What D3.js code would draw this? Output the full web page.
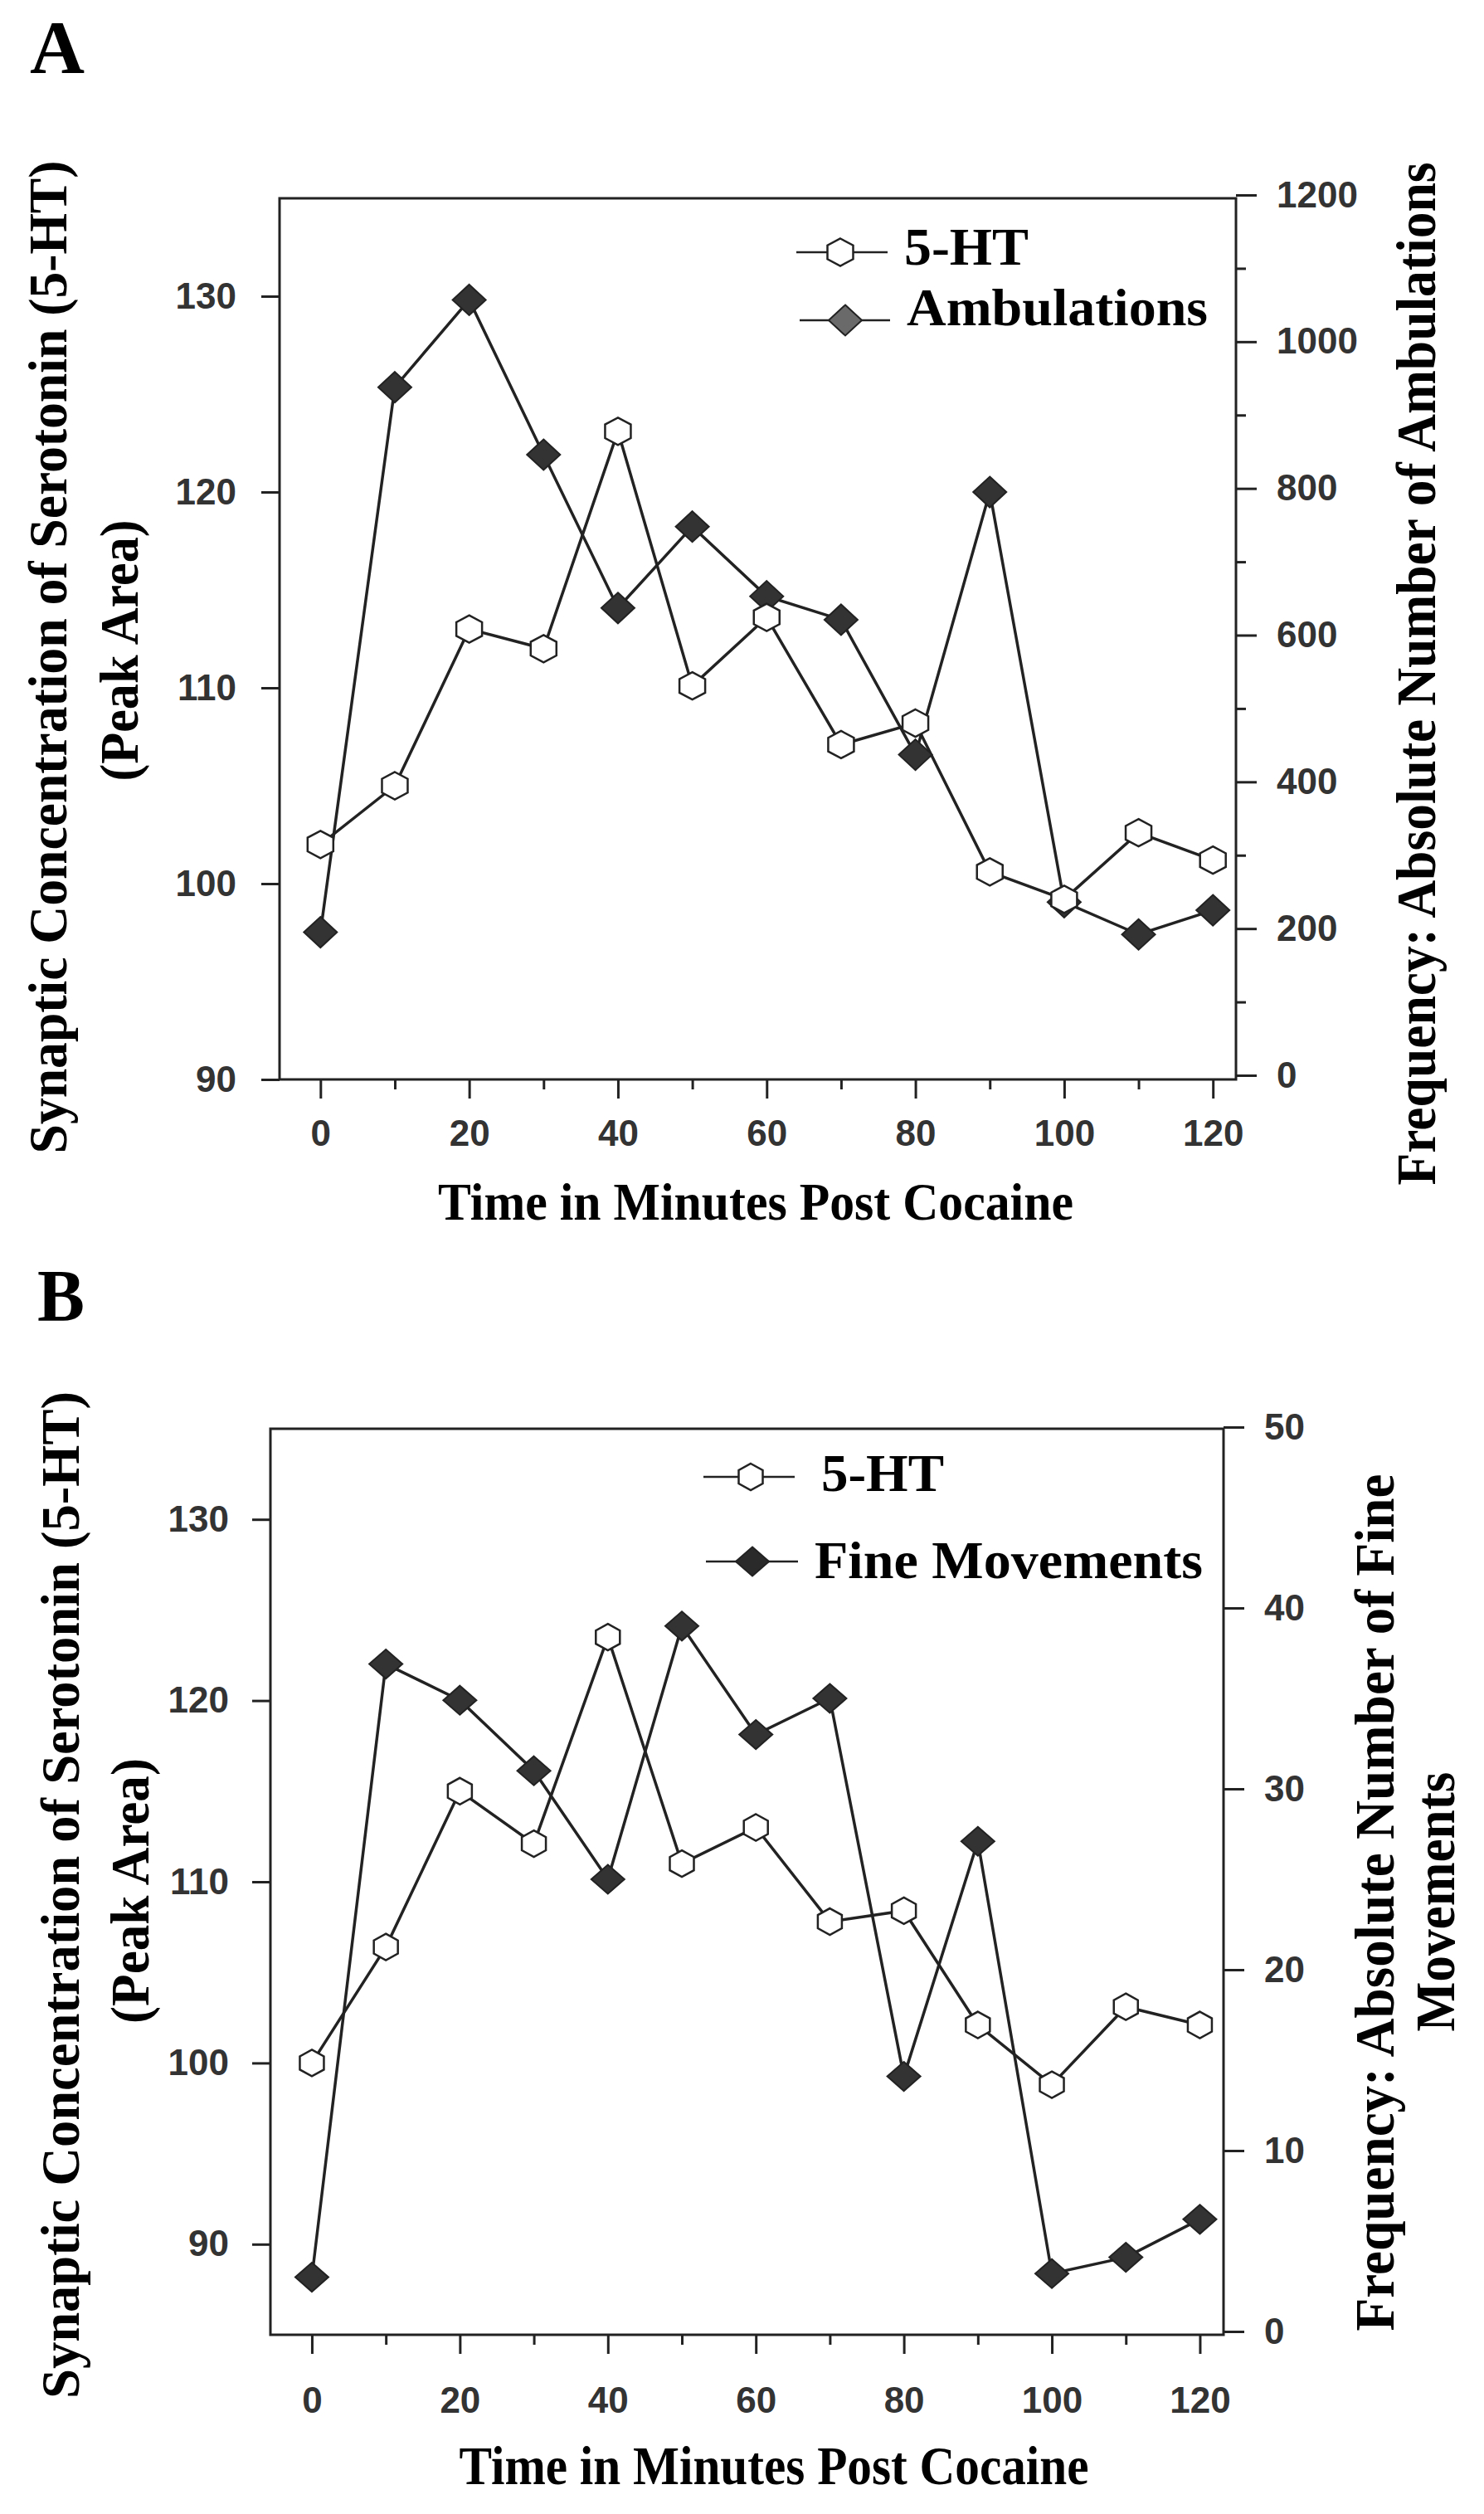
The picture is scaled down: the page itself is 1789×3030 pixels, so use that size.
<!DOCTYPE html>
<meta charset="utf-8">
<script src="https://d3js.org/d3.v7.min.js"></script>
<style>
body { margin: 0; background: #fff; }
.tick-label { font-family: "Liberation Sans", Arial, sans-serif; font-weight: bold; font-size: 44px; fill: #333; }
.title { font-family: "Liberation Serif", "Times New Roman", serif; font-weight: bold; fill: #000; }
</style>
<div id="chart"></div>
<script>

// ---- data ----
var minutes = [0, 10, 20, 30, 40, 50, 60, 70, 80, 90, 100, 110, 120];

// panel A
var serotoninA   = [102.0, 105.0, 113.0, 112.0, 123.1, 110.1, 113.6, 107.1, 108.2, 100.6, 99.2, 102.6, 101.2];
var ambulationsA = [195, 938, 1057, 846, 637, 748, 653, 621, 437, 795, 236, 192, 225];

// panel B
var serotoninB     = [100.0, 106.4, 115.0, 112.1, 123.5, 111.0, 113.0, 107.8, 108.4, 102.1, 98.8, 103.1, 102.1];
var fineMovementsB = [3.0, 36.9, 34.9, 31.0, 25.0, 39.0, 33.0, 35.0, 14.1, 27.1, 3.2, 4.1, 6.2];

// ticks
var xTicks = [0, 20, 40, 60, 80, 100, 120];
var xMinorTicks = [10, 30, 50, 70, 90, 110];
var leftTicks = [90, 100, 110, 120, 130];
var rightTicksA = [0, 200, 400, 600, 800, 1000, 1200];
var rightMinorA = [100, 300, 500, 700, 900, 1100];
var rightTicksB = [0, 10, 20, 30, 40, 50];

var svg = d3.select("#chart")
  .append("svg")
    .attr("width", 1789)
    .attr("height", 3030);

// hexagon (pointy top) and diamond shapes
function hexPath(w, h) {
  return "M0," + (-h) + "L" + w + "," + (-h / 2) + "L" + w + "," + (h / 2) +
         "L0," + h + "L" + (-w) + "," + (h / 2) + "L" + (-w) + "," + (-h / 2) + "Z";
}
function diamondPath(w, h) {
  return "M0," + (-h) + "L" + w + ",0L0," + h + "L" + (-w) + ",0Z";
}

// rotated title helper
function vText(x, y, str, size, len) {
  svg.append("text")
    .attr("class", "title")
    .attr("transform", "translate(" + x + "," + y + ") rotate(-90)")
    .attr("text-anchor", "middle")
    .style("font-size", size + "px")
    .attr("textLength", len)
    .attr("lengthAdjust", "spacingAndGlyphs")
    .text(str);
}
function hText(x, y, str, size, len, anchor) {
  svg.append("text")
    .attr("class", "title")
    .attr("x", x)
    .attr("y", y)
    .attr("text-anchor", anchor || "start")
    .style("font-size", size + "px")
    .attr("textLength", len)
    .attr("lengthAdjust", "spacingAndGlyphs")
    .text(str);
}

function drawPanel(p) {
  var x = d3.scaleLinear().domain(p.xDomain).range([p.left, p.right]);
  var yL = d3.scaleLinear().domain(p.leftDomain).range([p.bottom, p.top]);
  var yR = d3.scaleLinear().domain(p.rightDomain).range(p.rightRange);

  var g = svg.append("g");

  // x axis: major + minor ticks
  var xAxis = g.append("g")
    .attr("transform", "translate(0," + p.bottom + ")")
    .call(d3.axisBottom(x).tickValues(xTicks).tickSize(23).tickSizeOuter(0).tickPadding(p.xLabelPad));
  xAxis.append("g")
    .call(d3.axisBottom(x).tickValues(xMinorTicks).tickSize(12).tickFormat(""));

  // left axis
  g.append("g")
    .attr("transform", "translate(" + p.left + ",0)")
    .call(d3.axisLeft(yL).tickValues(leftTicks).tickSize(22).tickSizeOuter(0).tickPadding(p.leftPad));

  // right axis
  var rAxis = g.append("g")
    .attr("transform", "translate(" + p.right + ",0)")
    .call(d3.axisRight(yR).tickValues(p.rightTicks).tickFormat(d3.format("d"))
      .tickSize(25).tickSizeOuter(0).tickPadding(p.rightPad));
  if (p.rightMinor) {
    rAxis.append("g")
      .call(d3.axisRight(yR).tickValues(p.rightMinor).tickSize(12).tickFormat(""));
  }

  g.selectAll(".domain").remove();
  g.selectAll(".tick line").attr("stroke", "#222").attr("stroke-width", 3);
  g.selectAll(".tick text").attr("class", "tick-label").attr("fill", null);

  // frame
  g.append("path")
    .attr("d", "M" + p.left + "," + p.top + "L" + p.right + "," + p.top + "L" + p.right + "," + p.bottom +
               "L" + p.left + "," + p.bottom + "Z")
    .attr("fill", "none")
    .attr("stroke", "#222")
    .attr("stroke-width", 3);

  var ptsS = minutes.map(function(m, i) { return [x(m), yL(p.serotonin[i])]; });
  var ptsM = minutes.map(function(m, i) { return [x(m), yR(p.movement[i])]; });

  g.append("path").datum(ptsS)
    .attr("d", d3.line())
    .attr("fill", "none").attr("stroke", "#222").attr("stroke-width", 3.5);
  g.append("path").datum(ptsM)
    .attr("d", d3.line())
    .attr("fill", "none").attr("stroke", "#222").attr("stroke-width", 3.5);

  g.selectAll(".dia").data(ptsM).enter().append("path")
    .attr("d", diamondPath(p.dw, p.dh))
    .attr("transform", function(d) { return "translate(" + d[0] + "," + d[1] + ")"; })
    .attr("fill", "#333").attr("stroke", "#222").attr("stroke-width", 2);

  g.selectAll(".hex").data(ptsS).enter().append("path")
    .attr("d", hexPath(p.hw, p.hh))
    .attr("transform", function(d) { return "translate(" + d[0] + "," + d[1] + ")"; })
    .attr("fill", "#fff").attr("stroke", "#222").attr("stroke-width", 2.5);

  // legend
  var L = p.legend;
  g.append("line").attr("x1", L.x1).attr("x2", L.x2).attr("y1", L.y1).attr("y2", L.y1)
    .attr("stroke", "#222").attr("stroke-width", 2.5);
  g.append("path").attr("d", hexPath(p.hw, p.hh))
    .attr("transform", "translate(" + L.m1 + "," + L.y1 + ")")
    .attr("fill", "#fff").attr("stroke", "#222").attr("stroke-width", 2.5);
  g.append("line").attr("x1", L.x1b).attr("x2", L.x2b).attr("y1", L.y2).attr("y2", L.y2)
    .attr("stroke", "#222").attr("stroke-width", 2.5);
  g.append("path").attr("d", diamondPath(p.dw, p.dh))
    .attr("transform", "translate(" + L.m2 + "," + L.y2 + ")")
    .attr("fill", L.diaFill).attr("stroke", "#222").attr("stroke-width", 2);
  hText(L.t1x, L.t1y, "5-HT", 64, L.t1len);
  hText(L.t2x, L.t2y, p.movementName, 64, L.t2len);
}

// ---- panel A ----
hText(36, 88, "A", 92, 66);
drawPanel({
  left: 337, right: 1490, top: 239, bottom: 1301,
  xDomain: [-5.5, 123.1], leftDomain: [90, 135], rightDomain: [0, 1200], rightRange: [1296, 235],
  rightTicks: rightTicksA, rightMinor: rightMinorA,
  xLabelPad: 26, leftPad: 30, rightPad: 24,
  serotonin: serotoninA, movement: ambulationsA, movementName: "Ambulations",
  hw: 15.5, hh: 16.5, dw: 20, dh: 18.5,
  legend: { x1: 960, x2: 1070, y1: 304, m1: 1013, x1b: 964, x2b: 1073, y2: 386, m2: 1019, diaFill: "#6a6a6a",
            t1x: 1090, t1y: 319, t1len: 150, t2x: 1093, t2y: 392, t2len: 363 }
});
hText(911, 1470, "Time in Minutes Post Cocaine", 64, 766, "middle");
vText(80, 792, "Synaptic Concentration of Serotonin (5-HT)", 66, 1197);
vText(166, 784, "(Peak Area)", 66, 315);
vText(1730, 812, "Frequency: Absolute Number of Ambulations", 68, 1233);

// ---- panel B ----
hText(45, 1591, "B", 88, 57);
drawPanel({
  left: 326, right: 1475, top: 1722, bottom: 2814,
  xDomain: [-5.6, 123.2], leftDomain: [85, 135], rightDomain: [0, 50], rightRange: [2810, 1720],
  rightTicks: rightTicksB, rightMinor: null,
  xLabelPad: 40, leftPad: 28, rightPad: 24,
  serotonin: serotoninB, movement: fineMovementsB, movementName: "Fine Movements",
  hw: 14.5, hh: 16, dw: 20, dh: 17.5,
  legend: { x1: 848, x2: 958, y1: 1780, m1: 905, x1b: 851, x2b: 962, y2: 1882, m2: 907, diaFill: "#2a2a2a",
            t1x: 990, t1y: 1797, t1len: 148, t2x: 982, t2y: 1902, t2len: 468 }
});
hText(933, 2994, "Time in Minutes Post Cocaine", 66, 759, "middle");
vText(95, 2284, "Synaptic Concentration of Serotonin (5-HT)", 66, 1214);
vText(179, 2279, "(Peak Area)", 66, 320);
vText(1680, 2293, "Frequency: Absolute Number of Fine", 68, 1033);
vText(1753, 2292, "Movements", 68, 313);

</script>
